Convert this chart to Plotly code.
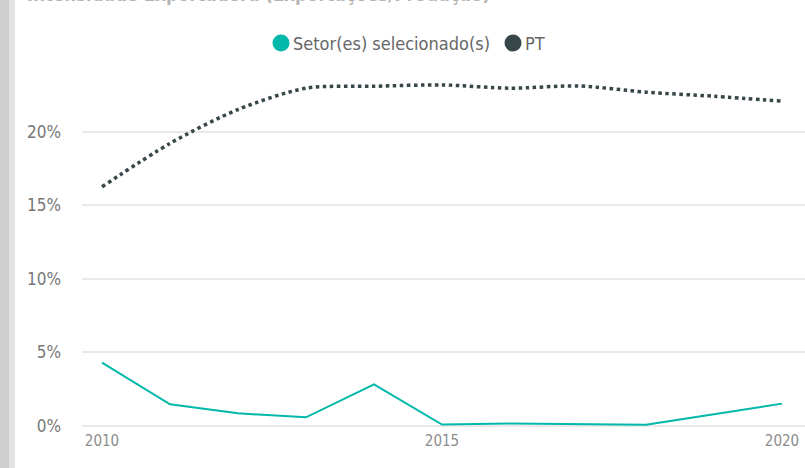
import plotly.graph_objects as go

years = list(range(2010, 2021))
setor = [0.0430, 0.0147, 0.0086, 0.0059, 0.0283, 0.0010, 0.0017, 0.0014, 0.0008, 0.0080, 0.0152]
pt = [0.1625, 0.1920, 0.2150, 0.2295, 0.2308, 0.2317, 0.2295, 0.2310, 0.2268, 0.2240, 0.2207]
x_ticks = [2010, 2015, 2020]
y_ticks = [0, 0.05, 0.10, 0.15, 0.20]
y_tick_labels = ["0%", "5%", "10%", "15%", "20%"]
series_names = ["Setor(es) selecionado(s)", "PT"]

TEAL = "#01B8AA"
DARK = "#374649"
FONT = "DejaVu Sans Condensed, Roboto, sans-serif"

W, H = 805, 468
ML, MR, MT, MB = 82, 0, 60, 38
PW = W - ML - MR
PH = H - MT - MB


def px2x(px):
    return (px - ML) / PW


def py2y(py):
    return (H - MB - py) / PH


fig = go.Figure()
fig.add_trace(go.Scatter(x=years, y=setor, mode="lines", name=series_names[0],
                         line=dict(color=TEAL, width=2), showlegend=False, hoverinfo="skip"))
fig.add_trace(go.Scatter(x=years, y=pt, mode="lines", name=series_names[1],
                         line=dict(color=DARK, width=3.5, dash="dot", shape="spline", smoothing=0.8),
                         showlegend=False, hoverinfo="skip"))

# left gray strip
fig.add_shape(type="rect", xref="paper", yref="paper", x0=px2x(0), x1=px2x(9),
              y0=py2y(H), y1=py2y(0), fillcolor="#cfcfcf", line=dict(width=0), layer="below")
fig.add_shape(type="rect", xref="paper", yref="paper", x0=px2x(9), x1=px2x(15),
              y0=py2y(H), y1=py2y(0), fillcolor="#e2e2e2", line=dict(width=0), layer="below")

# partially visible title
fig.add_annotation(text="<b>Intensidade Exportadora (Exportações/Produção)</b>", xref="paper", yref="paper",
                   x=px2x(25), xanchor="left", y=py2y(7), yanchor="bottom", showarrow=False,
                   font=dict(family=FONT, size=18.5, color="#b4b4b4"))

# legend (circle + label)
legend_cx = [281, 513]
legend_colors = [TEAL, DARK]
for cx, col, name in zip(legend_cx, legend_colors, series_names):
    fig.add_shape(type="circle", xref="paper", yref="paper", xsizemode="pixel", ysizemode="pixel",
                  xanchor=px2x(cx), yanchor=py2y(43), x0=-8.5, x1=8.5, y0=-8.5, y1=8.5,
                  fillcolor=col, line=dict(width=0))
    fig.add_annotation(text=name, xref="paper", yref="paper", x=px2x(cx + 10), xanchor="left",
                       y=py2y(43), yanchor="middle", showarrow=False,
                       font=dict(family=FONT, size=18, color="#666666"))

fig.update_layout(
    width=W, height=H,
    margin=dict(l=ML, r=MR, t=MT, b=MB, autoexpand=False),
    paper_bgcolor="white", plot_bgcolor="white",
    font=dict(family=FONT, color="#666666"),
    showlegend=False,
    xaxis=dict(range=[2010 - 20 / 68, 2010 + (W - 102) / 68], tickvals=x_ticks, ticktext=[str(v) for v in x_ticks],
               showgrid=False, zeroline=False, showline=False, ticks="",
               tickfont=dict(family=FONT, size=15, color="#8c8c8c")),
    yaxis=dict(range=[-4 / 14.72 / 100, (426 - MT) / 14.72 / 100], tickvals=y_ticks, ticktext=y_tick_labels,
               showgrid=True, gridcolor="#e9e9e9", gridwidth=1.5, zeroline=False, showline=False, ticks="",
               ticklabelstandoff=20,
               tickfont=dict(family=FONT, size=17, color="#777777")),
)

fig.write_html("out.html", config={"displayModeBar": False},
               post_script="document.body.style.margin='0px';document.body.style.overflow='hidden';")
